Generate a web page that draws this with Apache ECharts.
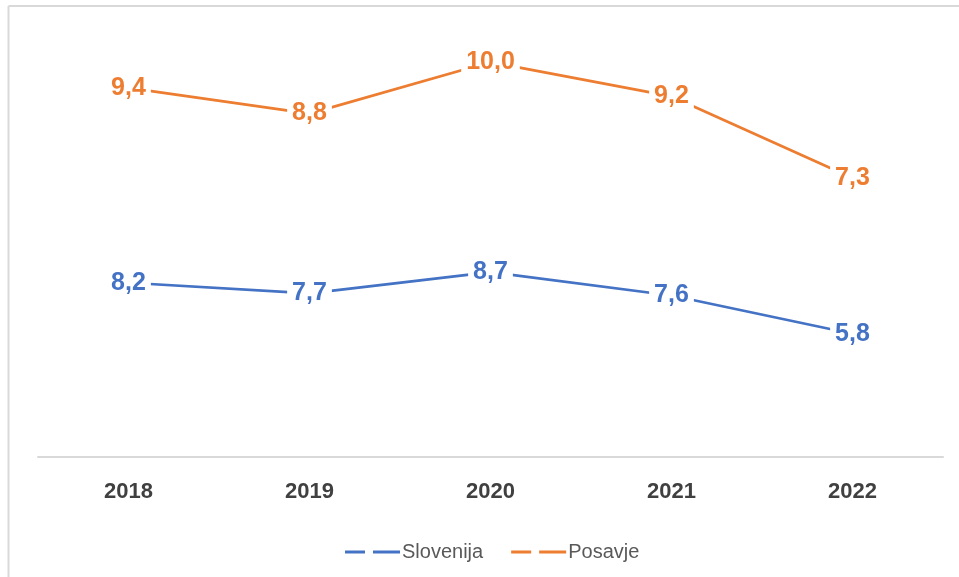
<!DOCTYPE html>
<html>
<head>
<meta charset="utf-8">
<script src="https://cdn.jsdelivr.net/npm/echarts@6/dist/echarts.min.js"></script>
<style>
html,body{margin:0;padding:0;background:#fff;}
#chart{width:959px;height:577px;}
</style>
</head>
<body>
<div id="chart"></div>
<script>
const categories = ['2018', '2019', '2020', '2021', '2022'];
const slovenija = [8.2, 7.7, 8.7, 7.6, 5.8];
const posavje = [9.4, 8.8, 10.0, 9.2, 7.3];
const seriesNames = ['Slovenija', 'Posavje'];

const BLUE = '#4472C4';
const ORANGE = '#ED7D31';
const FONT = '"Liberation Sans", Arial, sans-serif';

const chart = echarts.init(document.getElementById('chart'), null, {renderer: 'canvas'});

function fmt(p) { return p.value.toFixed(1).replace('.', ','); }

function labelCfg(color) {
  return {
    show: true,
    position: 'inside',
    formatter: fmt,
    color: color,
    fontFamily: FONT,
    fontWeight: 'bold',
    fontSize: 25,
    backgroundColor: '#ffffff',
    padding: [2, 5, 2, 5]
  };
}

const dashIcon = 'path://M0,0 L20,0 L20,3 L0,3 Z M28,0 L55,0 L55,3 L28,3 Z';

chart.setOption({
  backgroundColor: '#ffffff',
  animation: false,
  grid: {left: 38, right: 16, top: 32, bottom: 120},
  legend: {
    data: seriesNames.map(n => ({name: n, icon: dashIcon})),
    left: 340,
    top: 537,
    itemWidth: 55,
    itemHeight: 3,
    itemGap: 28,
    textStyle: {color: '#595959', fontSize: 20, fontFamily: FONT, padding: [0, 0, 0, -3]}
  },
  graphic: [
    {type: 'line', shape: {x1: 8.5, y1: 6, x2: 959, y2: 6}, style: {stroke: '#d9d9d9', lineWidth: 2}, silent: true},
    {type: 'line', shape: {x1: 8.5, y1: 6, x2: 8.5, y2: 577}, style: {stroke: '#d9d9d9', lineWidth: 2}, silent: true}
  ],
  xAxis: {
    type: 'category',
    data: categories,
    boundaryGap: true,
    axisLine: {show: true, lineStyle: {color: '#d9d9d9', width: 2}},
    axisTick: {show: false},
    axisLabel: {color: '#404040', fontFamily: FONT, fontWeight: 'bold', fontSize: 22, margin: 24},
    splitLine: {show: false}
  },
  yAxis: [
    {type: 'value', min: 0, max: 20, show: false, splitLine: {show: false}},
    {type: 'value', min: 0.8, max: 10.7, show: false, splitLine: {show: false}}
  ],
  series: [
    {
      name: seriesNames[0],
      type: 'line',
      yAxisIndex: 0,
      data: slovenija,
      symbol: 'circle',
      symbolSize: 1,
      showSymbol: true,
      color: BLUE,
      itemStyle: {color: BLUE},
      lineStyle: {color: BLUE, width: 2.75},
      label: labelCfg(BLUE),
      z: 2
    },
    {
      name: seriesNames[1],
      type: 'line',
      yAxisIndex: 1,
      data: posavje,
      symbol: 'circle',
      symbolSize: 1,
      showSymbol: true,
      color: ORANGE,
      itemStyle: {color: ORANGE},
      lineStyle: {color: ORANGE, width: 2.75},
      label: labelCfg(ORANGE),
      z: 2
    }
  ]
});
</script>
</body>
</html>
